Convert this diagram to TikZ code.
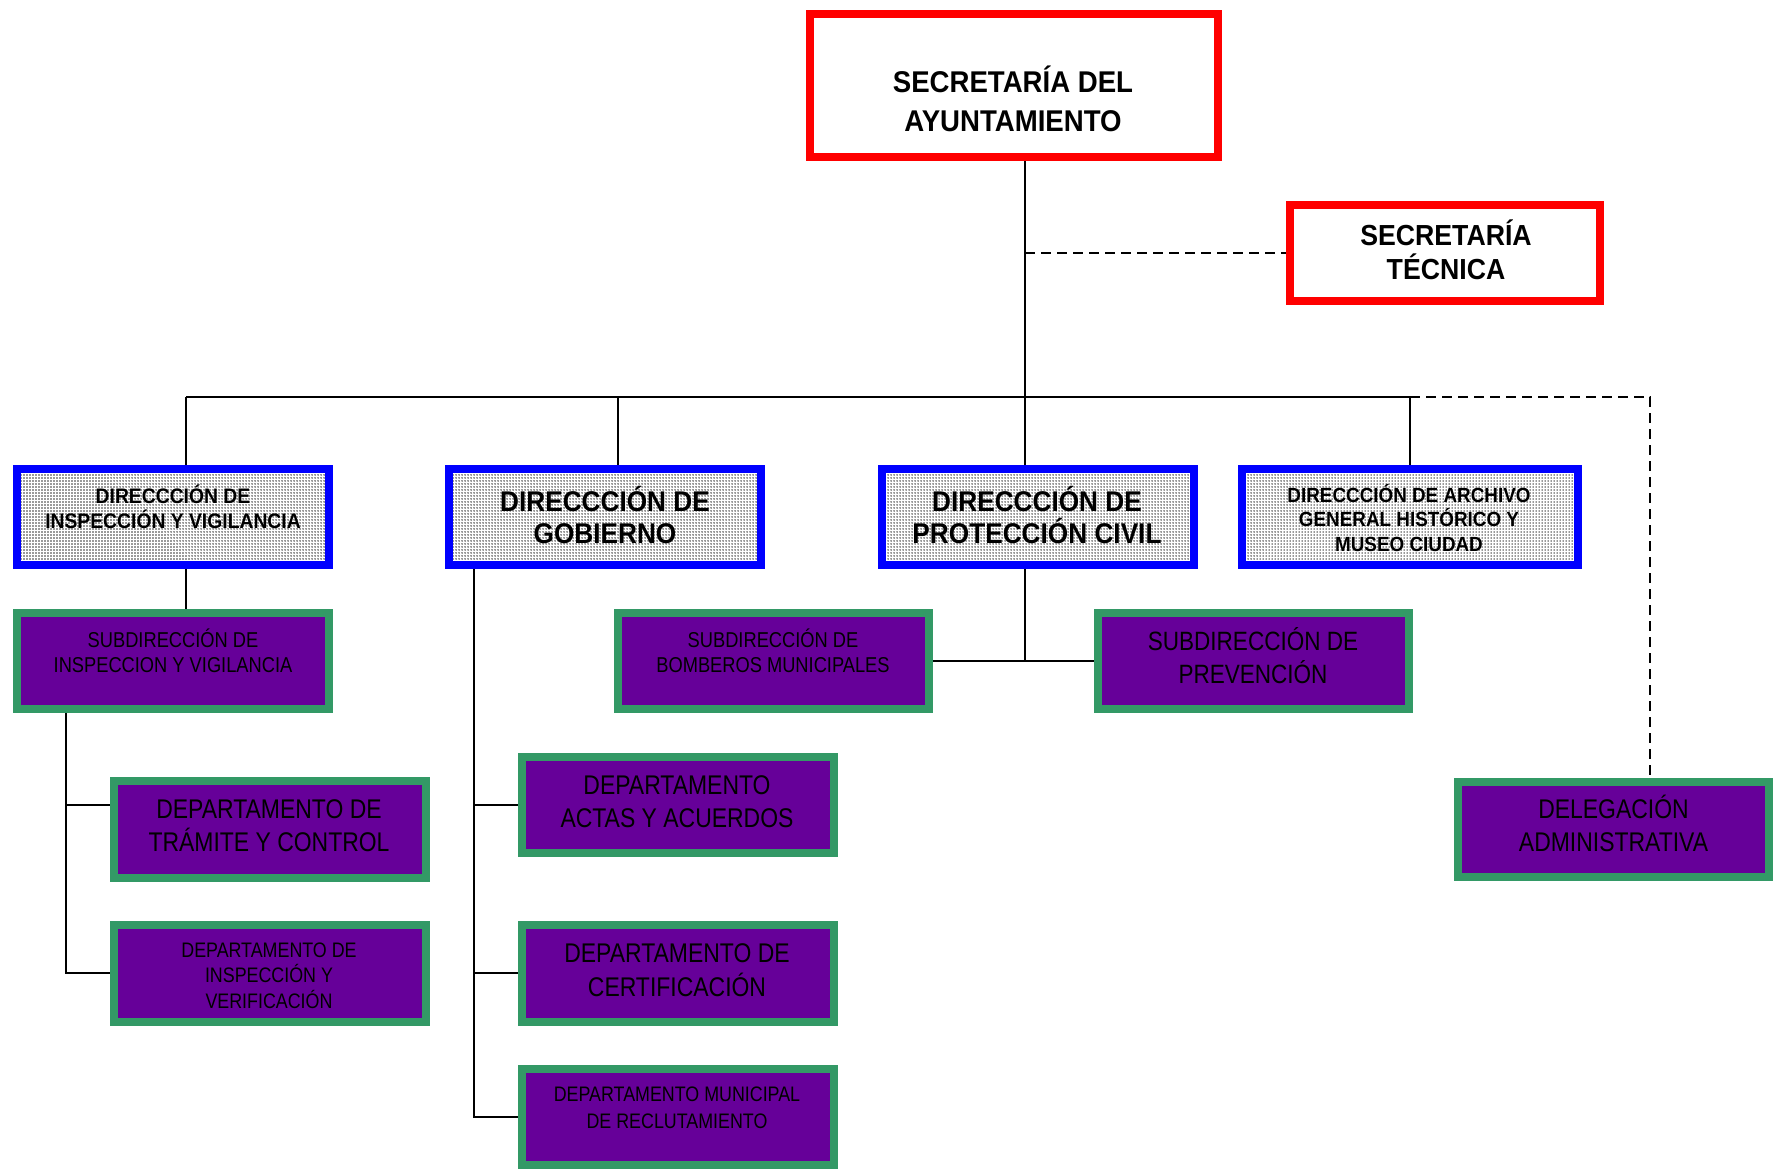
\documentclass[tikz,border=0pt]{standalone}
\usepackage{fontspec}
\setmainfont{Liberation Sans}
\newfontfamily\freg{Liberation Sans}[FakeStretch=0.85]
\newfontfamily\fbld{Liberation Sans}[FakeStretch=0.92]
\usetikzlibrary{patterns.meta}
\definecolor{grn}{HTML}{339966}
\definecolor{pur}{HTML}{660099}
\pgfdeclarelayer{bg}
\pgfsetlayers{bg,main}
\begin{document}
\begin{tikzpicture}[x=0.5pt,y=-0.5pt,
  conn/.style={line width=0.9pt,draw=black},
  dsh/.style={line width=1.1pt,draw=black,dash pattern=on 5pt off 3pt},
  redbox/.style={draw=red,line width=4pt,fill=white,inner sep=0pt,outer sep=0pt},
  bluebox/.style={draw=blue,line width=4pt,preaction={fill=white},pattern={Dots[distance=1.5pt,radius=0.38pt]},pattern color=black!80,inner sep=0pt,outer sep=0pt},
  purbox/.style={draw=grn,fill=pur,line width=4pt,inner sep=0pt,outer sep=0pt},
  sz/.style 2 args={minimum width=#1pt,minimum height=#2pt},
  bt/.style 2 args={align=center,inner sep=0pt,text=black,font={\fbld\bfseries\fontsize{#1pt}{#2pt}\selectfont}},
  rt/.style 2 args={align=center,inner sep=0pt,text=black,font={\freg\fontsize{#1pt}{#2pt}\selectfont}}
]
\useasboundingbox (0,0) rectangle (1773,1168);

% junction coordinates
\coordinate (j1) at (186,397);
\coordinate (j2) at (618,397);
\coordinate (jc) at (1025,397);
\coordinate (j4) at (1410,397);
\coordinate (jd) at (1650,397);
\coordinate (k1) at (66,805);
\coordinate (k2) at (66,973);
\coordinate (g) at (474,1117);

% top level
\node[redbox,sz={204}{71.5}] (top) at (1014,85.5) {};
\node[bt={15}{19.25}] (topt) at (1013,99) {SECRETARÍA DEL\\AYUNTAMIENTO};
\node[redbox,sz={155}{48}] (sectec) at (1445,253) {};
\node[bt={14.5}{16.75}] (sectect) at (1446,250) {SECRETARÍA\\TÉCNICA};

% direcciones
\node[bluebox,sz={156}{48}] (dir1) at (173,517) {};
\node[bt={10.5}{12.5}] (dir1t) at (173,507) {DIRECCCIÓN DE\\INSPECCIÓN Y VIGILANCIA};
\node[bluebox,sz={156}{48}] (dir2) at (605,517) {};
\node[bt={14.25}{16.25}] (dir2t) at (605,515) {DIRECCCIÓN DE\\GOBIERNO};
\node[bluebox,sz={156}{48}] (dir3) at (1038,517) {};
\node[bt={14.25}{16.25}] (dir3t) at (1037,515) {DIRECCCIÓN DE\\PROTECCIÓN CIVIL};
\node[bluebox,sz={168}{48}] (dir4) at (1410,517) {};
\node[bt={10.25}{12.25}] (dir4t) at (1409,518) {DIRECCCIÓN DE ARCHIVO\\GENERAL HISTÓRICO Y\\MUSEO CIUDAD};

% subdirecciones
\node[purbox,sz={156}{48}] (sub1) at (173,661) {};
\node[rt={10.75}{12.75}] (sub1t) at (173,651) {SUBDIRECCIÓN DE\\INSPECCION Y VIGILANCIA};
\node[purbox,sz={155.5}{48}] (bomb) at (773.5,661) {};
\node[rt={10.75}{12.75}] (bombt) at (773,651) {SUBDIRECCIÓN DE\\BOMBEROS MUNICIPALES};
\node[purbox,sz={155.5}{48}] (prev) at (1253.5,661) {};
\node[rt={13.25}{16.5}] (prevt) at (1253,656) {SUBDIRECCIÓN DE\\PREVENCIÓN};

% departamentos
\node[purbox,sz={156}{48.5}] (tram) at (270,829.5) {};
\node[rt={13.5}{16.5}] (tramt) at (269,826) {DEPARTAMENTO DE\\TRÁMITE Y CONTROL};
\node[purbox,sz={156}{48.5}] (inspv) at (270,973.5) {};
\node[rt={10.5}{12.75}] (inspvt) at (269,975.5) {DEPARTAMENTO DE\\INSPECCIÓN Y\\VERIFICACIÓN};
\node[purbox,sz={156}{48}] (actas) at (678,805) {};
\node[rt={13.5}{16.5}] (actast) at (677,802) {DEPARTAMENTO\\ACTAS Y ACUERDOS};
\node[purbox,sz={156}{48.5}] (cert) at (678,973.5) {};
\node[rt={13.5}{17}] (certt) at (677,970) {DEPARTAMENTO DE\\CERTIFICACIÓN};
\node[purbox,sz={156}{48}] (reclut) at (678,1117) {};
\node[rt={10.5}{13.5}] (reclutt) at (677,1108) {DEPARTAMENTO MUNICIPAL\\DE RECLUTAMIENTO};
\node[purbox,sz={155.5}{47.5}] (deleg) at (1613.5,829.5) {};
\node[rt={13.5}{16.25}] (delegt) at (1613.5,823.5) {DELEGACIÓN\\ADMINISTRATIVA};

% connectors
\begin{pgfonlayer}{bg}
\draw[conn] (top.south -| jc) -- (dir3.north -| jc);
\draw[dsh] (sectec.west -| jc) -- (sectec.west);
\draw[conn] (j1) -- (j4);
\draw[dsh] (j4) -- (jd) -- (deleg.north -| jd);
\draw[conn] (j1) -- (dir1.north -| j1);
\draw[conn] (j2) -- (dir2.north -| j2);
\draw[conn] (j4) -- (dir4.north -| j4);
\draw[conn] (dir1.south -| j1) -- (sub1.north -| j1);
\draw[conn] (sub1.south -| k1) -- (k2) -- (inspv.west |- k2);
\draw[conn] (k1) -- (tram.west |- k1);
\draw[conn] (dir2.south -| g) -- (g) -- (reclut.west);
\draw[conn] (actas.west -| g) -- (actas.west);
\draw[conn] (g |- k2) -- (cert.west |- k2);
\draw[conn] (bomb.east) -- (prev.west);
\draw[conn] (dir3.south -| jc) -- (bomb.east -| jc);
\end{pgfonlayer}
\end{tikzpicture}
\end{document}
